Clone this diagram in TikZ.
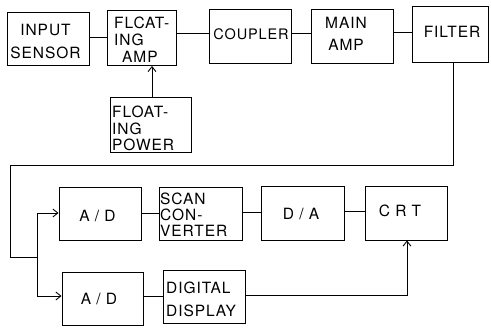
\documentclass[tikz,border=0pt]{standalone}
\usepackage{fontspec}
\setmainfont{TeX Gyre Heros}[LetterSpace=6]
\usetikzlibrary{arrows.meta}
\newcommand{\fs}[1]{\fontsize{15.5}{#1}\selectfont}
\begin{document}
\begin{tikzpicture}[x=1pt,y=-1pt,
  blk/.style={draw,line width=0.9pt,inner sep=0pt},
  lbl/.style={inner sep=0pt,font=\fs{17}},
  conn/.style={line width=0.9pt},
  arr/.style={line width=0.9pt,-{Straight Barb[length=5pt,width=8pt]}}]
\useasboundingbox (0,0) rectangle (491,328);
% boxes
\node[blk,minimum width=82pt,minimum height=53pt] (in) at (48,38.5) {};
\node[blk,minimum width=69pt,minimum height=55pt] (famp) at (141.5,38) {};
\node[blk,minimum width=82pt,minimum height=54pt] (coup) at (250,36) {};
\node[blk,minimum width=82pt,minimum height=54pt] (main) at (352,36) {};
\node[blk,minimum width=76pt,minimum height=56pt] (filt) at (450,34) {};
\node[blk,minimum width=81pt,minimum height=55pt] (fpow) at (150.5,124.5) {};
\node[blk,minimum width=82pt,minimum height=53pt] (ad1) at (100,213.5) {};
\node[blk,minimum width=83pt,minimum height=53pt] (scan) at (200.5,213.5) {};
\node[blk,minimum width=83pt,minimum height=54pt] (da) at (302.5,213) {};
\node[blk,minimum width=82pt,minimum height=54pt] (crt) at (406,213) {};
\node[blk,minimum width=81pt,minimum height=53pt] (ad2) at (102.5,298.5) {};
\node[blk,minimum width=82pt,minimum height=53pt] (dd) at (204,296.5) {};
% labels
\node[lbl,font=\fs{23},align=center] (int) at (45.5,41.5) {INPUT\\SENSOR};
\node[lbl,font=\fs{17},align=left,anchor=west] (fampt) at (114,40) {FLCAT-\\ING\\\hspace{8pt}AMP};
\node[lbl,font=\fontsize{14.5}{16}\selectfont] (coupt) at (251,34) {COUPLER};
\node[lbl,font=\fs{22},align=center] (maint) at (346,34) {MAIN\\AMP};
\node[lbl] (filtt) at (452,32) {FILTER};
\node[lbl,font=\fs{16.5},align=left,anchor=west] (fpowt) at (112,128.5) {FLOAT-\\ING\\POWER};
\node[lbl] (ad1t) at (97.5,216) {A / D};
\node[lbl,font=\fs{16},align=left,anchor=west] (scant) at (160,215) {SCAN\\CON-\\VERTER};
\node[lbl] (dat) at (301,214) {D / A};
\node[lbl] (crtt) at (400,211) {C R T};
\node[lbl] (ad2t) at (99,299) {A / D};
\node[lbl,font=\fs{23},align=left,anchor=west] (ddt) at (166,299.5) {DIGITAL\\DISPLAY};
% top row connectors
\draw[conn] (in.east |- 0,37) -- (famp.west |- 0,37);
\draw[conn] (famp.east |- 0,33) -- (coup.west |- 0,33);
\draw[conn] (coup.east |- 0,33) -- (main.west |- 0,33);
\draw[conn] (main.east |- 0,32) -- (filt.west |- 0,32);
\coordinate (pw) at (152,97);
\draw[arr] (fpow.north -| pw) -- (famp.south -| pw);
% feedback path
\coordinate (fb1) at (453,165);
\coordinate (fb2) at (10,165);
\coordinate (fb3) at (10,257);
\coordinate (sp) at (37,257);
\coordinate (sp1) at (37,213);
\coordinate (sp2) at (37,296);
\draw[conn] (filt.south -| fb1) -- (fb1) -- (fb2) -- (fb3) -- (sp);
\draw[conn] (sp1) -- (sp2);
\draw[arr] (sp1) -- (ad1.west |- sp1);
\draw[arr] (sp2) -- (ad2.west |- sp2);
% second row
\draw[conn] (ad1.east |- 0,213) -- (scan.west |- 0,213);
\draw[conn] (scan.east |- 0,212) -- (da.west |- 0,212);
\draw[conn] (da.east |- 0,211) -- (crt.west |- 0,211);
% third row
\draw[conn] (ad2.east |- 0,296) -- (dd.west |- 0,296);
\coordinate (cr) at (407,295);
\draw[arr] (dd.east |- cr) -- (cr) -- (crt.south -| cr);
\end{tikzpicture}
\end{document}
